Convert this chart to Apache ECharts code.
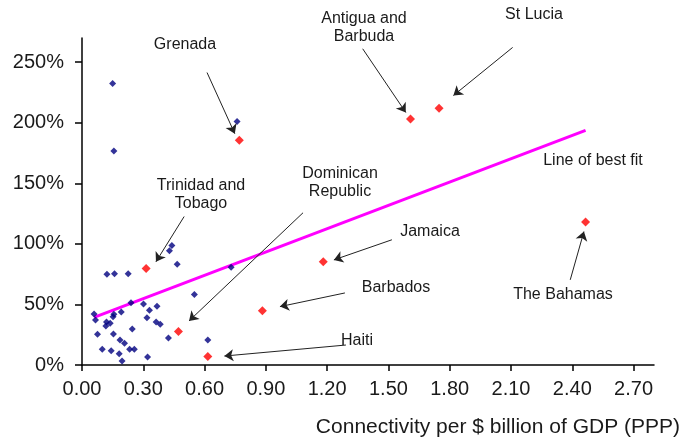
<!DOCTYPE html>
<html>
<head>
<meta charset="utf-8">
<script src="https://cdn.jsdelivr.net/npm/echarts@6/dist/echarts.min.js"></script>
<style>
  html, body { margin: 0; padding: 0; background: #ffffff; }
  #chart { width: 682px; height: 441px; }
</style>
</head>
<body>
<div id="chart"></div>
<script>
// ---- Data ----
// x: connectivity per $ billion of GDP (PPP); y: percent
const otherCountries = [
  [0.440, 98.7], [0.428, 94.3], [0.466, 83.1], [0.122, 75.0], [0.159, 75.3],
  [0.226, 75.3], [0.730, 80.8], [0.550, 58.3], [0.059, 42.2], [0.066, 37.2],
  [0.120, 35.6], [0.138, 34.5], [0.117, 32.3], [0.156, 41.9], [0.152, 39.9],
  [0.192, 43.8], [0.240, 51.5], [0.301, 50.4], [0.330, 45.2], [0.367, 48.5],
  [0.318, 39.1], [0.363, 35.6], [0.383, 33.7], [0.246, 29.8], [0.076, 25.4],
  [0.154, 25.6], [0.186, 20.7], [0.208, 17.9], [0.423, 22.3], [0.616, 20.7],
  [0.099, 13.0], [0.143, 11.8], [0.233, 13.0], [0.256, 13.0], [0.182, 9.3],
  [0.196, 3.3], [0.321, 6.6], [0.150, 232.4], [0.156, 176.7], [0.759, 201.0]
];
const highlightNames = ['Grenada', 'Trinidad and Tobago', 'Dominican Republic', 'Haiti',
  'Barbados', 'Jamaica', 'Antigua and Barbuda', 'St Lucia', 'The Bahamas'];
const highlightX = [0.770, 0.314, 0.472, 0.616, 0.883, 1.181, 1.608, 1.748, 2.465];
const highlightY = [185.5, 79.6, 27.7, 7.0, 44.7, 85.2, 203.2, 212.0, 118.0];
const bestFitX = [0.059, 2.465];
const bestFitY = [39.4, 193.8];
const xTickValues = [0, 0.3, 0.6, 0.9, 1.2, 1.5, 1.8, 2.1, 2.4, 2.7];
const yTickValues = [0, 50, 100, 150, 200, 250];
const xAxisTitle = 'Connectivity per $ billion of GDP (PPP)';

// Annotation arrows (data coordinates: from -> to)
const arrowFrom = [[0.612, 241.5], [0.500, 122.6], [1.082, 125.7], [1.292, 16.5],
  [1.287, 59.5], [1.517, 103.4], [1.374, 261.1], [2.108, 262.2], [2.390, 70.3]];
const arrowTo = [[0.748, 191.0], [0.362, 85.2], [0.524, 36.4], [0.697, 7.4],
  [0.969, 48.2], [1.233, 86.8], [1.585, 208.5], [1.818, 222.5], [2.457, 110.2]];

// Annotation label layout (pixels)
const labelText = ['Grenada', 'Trinidad and\nTobago', 'Dominican\nRepublic', 'Haiti',
  'Barbados', 'Jamaica', 'Antigua and\nBarbuda', 'St Lucia', 'The Bahamas', 'Line of best fit'];
const labelPos = [[185, 45], [201, 194.5], [340, 183], [357, 341], [396, 288],
  [430, 232], [364, 28], [534, 15], [563, 295], [593, 161]];

// ---- Chart ----
const chart = echarts.init(document.getElementById('chart'), null, { renderer: 'canvas' });
const textColor = '#1a1a1a';
const font = 'Arial, "Liberation Sans", sans-serif';

const highlightData = highlightX.map((x, i) => ({ name: highlightNames[i], value: [x, highlightY[i]] }));
const bestFit = bestFitX.map((x, i) => [x, bestFitY[i]]);
const arrows = arrowFrom.map((f, i) => [{ coord: f }, { coord: arrowTo[i] }]);

const graphics = labelText.map((t, i) => ({
  type: 'text',
  x: labelPos[i][0],
  y: labelPos[i][1],
  style: {
    text: t,
    fill: textColor,
    font: '16px ' + font,
    align: 'center',
    verticalAlign: 'middle',
    lineHeight: 18
  },
  z: 100
}));
graphics.push({
  type: 'text',
  x: 680,
  y: 427,
  style: {
    text: xAxisTitle,
    fill: textColor,
    font: '21px ' + font,
    align: 'right',
    verticalAlign: 'middle'
  }
});

chart.setOption({
  animation: false,
  backgroundColor: '#ffffff',
  grid: { left: 82, right: 28, top: 38, bottom: 76 },
  xAxis: {
    type: 'value',
    min: 0,
    max: 2.8,
    interval: 0.3,
    splitLine: { show: false },
    axisLine: { show: true, onZero: false, lineStyle: { color: '#000', width: 1.5 } },
    axisTick: { show: true, inside: false, length: 6, customValues: xTickValues, lineStyle: { color: '#000', width: 1.5 } },
    axisLabel: {
      customValues: xTickValues,
      formatter: v => v.toFixed(2),
      color: textColor,
      fontFamily: font,
      fontSize: 20,
      margin: 14
    }
  },
  yAxis: {
    type: 'value',
    min: 0,
    max: 270,
    interval: 50,
    splitLine: { show: false },
    axisLine: { show: true, onZero: false, lineStyle: { color: '#000', width: 1.5 } },
    axisTick: { show: true, inside: false, length: 7, customValues: yTickValues, lineStyle: { color: '#000', width: 1.5 } },
    axisLabel: {
      customValues: yTickValues,
      formatter: v => v + '%',
      color: textColor,
      fontFamily: font,
      fontSize: 20,
      margin: 18
    }
  },
  series: [
    {
      name: 'Line of best fit',
      type: 'line',
      data: bestFit,
      symbol: 'none',
      lineStyle: { color: '#FF00FF', width: 3 },
      z: 2,
      silent: true
    },
    {
      name: 'Other countries',
      type: 'scatter',
      data: otherCountries,
      symbol: 'diamond',
      symbolSize: 7,
      itemStyle: { color: '#000080' },
      z: 3
    },
    {
      name: 'Highlighted',
      type: 'scatter',
      data: highlightData,
      symbol: 'diamond',
      symbolSize: 9,
      itemStyle: { color: '#FF0000' },
      z: 4,
      markLine: {
        silent: true,
        symbol: ['none', 'arrow'],
        symbolSize: 9,
        label: { show: false },
        emphasis: { disabled: true },
        lineStyle: { color: '#222', width: 1, type: 'solid', opacity: 1 },
        data: arrows
      }
    }
  ],
  graphic: graphics
});
</script>
</body>
</html>
